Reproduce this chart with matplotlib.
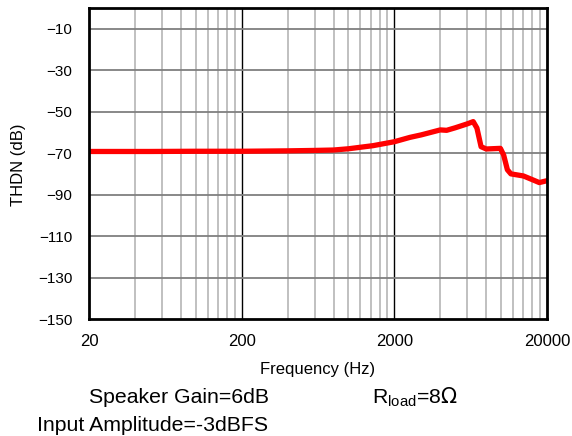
import matplotlib.pyplot as plt
import numpy as np

plt.rcParams['font.family'] = ['Liberation Sans', 'DejaVu Sans']

freq = [20, 50, 100, 200, 400, 600, 800, 1000, 1450, 2000, 2530, 3000, 4000,
        4400, 5000, 6000, 6570, 6950, 7400, 8000, 9900, 10400, 11000, 11600,
        14000, 15800, 17800, 20000]
thdn = [-69.2, -69.2, -69.1, -69.1, -68.9, -68.7, -68.5, -67.9, -66.4, -64.5,
        -62.4, -61.2, -58.8, -59.0, -57.8, -55.9, -54.8, -57.9, -66.9, -68.0,
        -67.7, -70.9, -78.0, -80.0, -81.0, -82.6, -84.2, -83.3]

yticks = [-10, -30, -50, -70, -90, -110, -130, -150]
xticks = [20, 200, 2000, 20000]

fig = plt.figure(figsize=(5.72, 4.36), dpi=100)
ax = fig.add_axes([0.1556, 0.2683, 0.8007, 0.7134])

# minor vertical grid (every 20, 200, 2000)
for dec in [20, 200, 2000]:
    for m in range(2, 10):
        ax.axvline(dec * m, color='#c0c0c0', lw=1.4, zorder=1)
for x in [200, 2000]:
    ax.axvline(x, color='black', lw=1.0, zorder=1)
for y in yticks[:-1]:
    ax.axhline(y, color='#7f7f7f', lw=1.3, zorder=1)

ax.plot(freq, thdn, color='#ff0000', lw=3.8, solid_capstyle='round',
        solid_joinstyle='round', zorder=3)

ax.set_xscale('log')
ax.set_xlim(20, 20000)
ax.set_ylim(-150, 0)
ax.set_xticks(xticks)
ax.set_xticklabels([str(x) for x in xticks])
ax.xaxis.set_minor_locator(plt.NullLocator())
ax.set_yticks(yticks)
ax.set_yticklabels(['\u2212' + str(-y) for y in yticks])
ax.tick_params(length=0)
ax.tick_params(axis='y', labelsize=11, pad=12)
ax.tick_params(axis='x', labelsize=12, pad=11)

for s in ax.spines.values():
    s.set_linewidth(2)
    s.set_color('black')
    s.set_zorder(4)

ax.set_xlabel('Frequency (Hz)', fontsize=12, labelpad=9)
fig.text(19 / 572, 1 - 165 / 436, 'THDN (dB)', fontsize=12, rotation=90,
         va='center', ha='center')

fig.text(89 / 572, 1 - 397 / 436, 'Speaker Gain=6dB', fontsize=15.3, va='center', ha='left')
fig.text(372 / 572, 1 - 397 / 436, r'R$_{\mathregular{load}}$=8$\Omega$', fontsize=15.3,
         va='center', ha='left')
fig.text(37 / 572, 1 - 425 / 436, 'Input Amplitude=-3dBFS', fontsize=15.3, va='center', ha='left')

fig.savefig('out.png', dpi=100)
